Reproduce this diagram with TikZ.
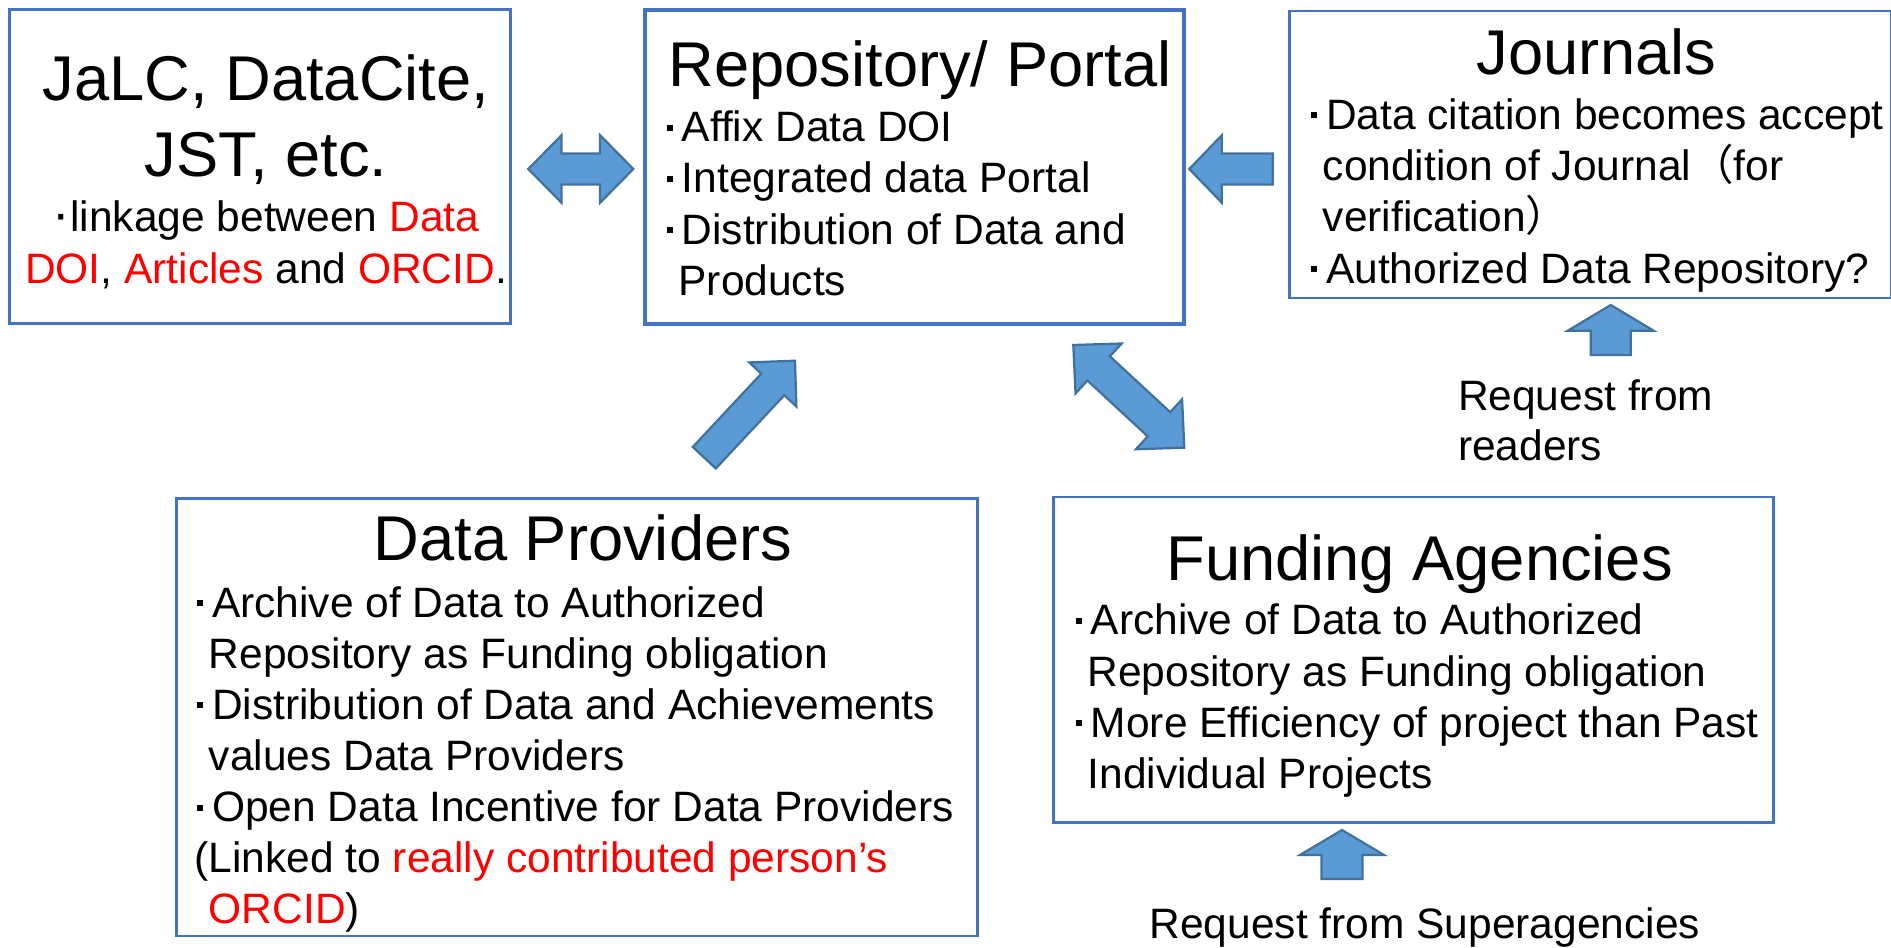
\documentclass[tikz,border=0pt]{standalone}
\usepackage{fontspec}
\setmainfont{Liberation Sans}
\newfontfamily\cjk{Noto Sans CJK JP}
\usetikzlibrary{calc}
\definecolor{boxblue}{HTML}{4472C4}
\definecolor{arrfill}{HTML}{5B9BD5}
\definecolor{arrline}{HTML}{41719C}
\definecolor{txtred}{HTML}{FF0000}

\newcommand\blk[3]{\vtop{\fontsize{#1}{#2}\selectfont\lineskiplimit=-100pt\halign{##\hfil\cr#3\crcr}}}
\newcommand\cblk[3]{\vtop{\fontsize{#1}{#2}\selectfont\lineskiplimit=-100pt\halign{\hfil##\hfil\cr#3\crcr}}}
\newcommand\sqb{\makebox[7.1pt][l]{\hspace{1pt}\raisebox{4.4pt}{\rule{2.4pt}{2.4pt}}}}
\newcommand\ind{\hspace*{5.8pt}}
\newcommand\rd[1]{\textcolor{txtred}{#1}}
\newcommand\ttl[1]{{\fontsize{25.3pt}{30pt}\selectfont #1}}
\newcommand\mdot{{\fontsize{21pt}{21pt}\selectfont ·}}

% single block arrow: name, tail, tip, shaft half-width, head half-width, head length
\newcommand\blockarr[6]{%
  \coordinate (#1c) at ($(#3)!#6!(#2)$);
  \draw[arrowshape] ($(#2)!#4!90:(#3)$) -- ($(#1c)!#4!90:(#3)$) -- ($(#1c)!#5!90:(#3)$) -- (#3)
    -- ($(#1c)!#5!-90:(#3)$) -- ($(#1c)!#4!-90:(#3)$) -- ($(#2)!#4!-90:(#3)$) -- cycle;}
% double block arrow: name, tip A, tip B, shaft half-width, head half-width, head length
\newcommand\dblarr[6]{%
  \coordinate (#1a) at ($(#2)!#6!(#3)$);
  \coordinate (#1b) at ($(#3)!#6!(#2)$);
  \draw[arrowshape] (#2) -- ($(#1a)!#5!90:(#3)$) -- ($(#1a)!#4!90:(#3)$) -- ($(#1b)!#4!90:(#3)$)
    -- ($(#1b)!#5!90:(#3)$) -- (#3) -- ($(#1b)!#5!-90:(#3)$) -- ($(#1b)!#4!-90:(#3)$)
    -- ($(#1a)!#4!-90:(#3)$) -- ($(#1a)!#5!-90:(#3)$) -- cycle;}

\tikzset{
  box/.style={draw=boxblue, line width=1pt, inner sep=0pt, anchor=north west},
  txt/.style={inner sep=0pt, outer sep=0pt},
  arrowshape/.style={fill=arrfill, draw=arrline, line width=0.9pt, line join=miter}
}

\begin{document}
\begin{tikzpicture}[x=0.4pt, y=-0.4pt]
\useasboundingbox (0,0) rectangle (1891,947);

% boxes
\node[box, minimum width=200.4pt, minimum height=125.6pt] (jalc) at (8,8) {};
\node[box, line width=1.7pt, minimum width=215.8pt, minimum height=125.4pt] (repo) at (642.5,8) {};
\node[box, minimum width=240.6pt, minimum height=114.8pt] (jour) at (1288,9.5) {};
\node[box, minimum width=320.4pt, minimum height=175pt] (dp) at (175,497) {};
\node[box, minimum width=288pt, minimum height=130.2pt] (fund) at (1052,495.5) {};

% texts
\node[txt, anchor=base] (jalcT) at (266,100) {\cblk{25.3pt}{30.7pt}{JaLC, DataCite,\cr JST, etc.}};
\node[txt, anchor=base] (jalcB) at (266,231) {\cblk{17pt}{20.9pt}{\mdot linkage between \rd{Data}\cr \rd{DOI}, \rd{Articles} and \rd{ORCID}.}};

\node[txt, anchor=base] (repoT) at (920,86) {\ttl{Repository/ Portal}};
\node[txt, anchor=base west] (repoB) at (664,141.7) {\blk{17pt}{20.5pt}{\sqb Affix Data DOI\cr \sqb Integrated data Portal\cr \sqb Distribution of Data and\cr \ind Products}};

\node[txt, anchor=base] (jourT) at (1596.5,74) {\ttl{Journals}};
\node[txt, anchor=base west] (jourB) at (1308.3,129.3) {\blk{17pt}{20.5pt}{\sqb Data citation becomes accept\cr \ind condition of Journal{\cjk （}for\cr \ind verification{\cjk ）}\cr \sqb Authorized Data Repository?}};

\node[txt, anchor=base] (dpT) at (583,560) {\ttl{Data Providers}};
\node[txt, anchor=base west] (dpB) at (194.4,617) {\blk{17pt}{20.45pt}{\sqb Archive of Data to Authorized\cr \ind Repository as Funding obligation\cr \sqb Distribution of Data and Achievements\cr \ind values Data Providers\cr \sqb Open Data Incentive for Data Providers\cr (Linked to \rd{really contributed person’s}\cr \ind\rd{ORCID})}};

\node[txt, anchor=base] (fundT) at (1419.7,580) {\ttl{Funding Agencies}};
\node[txt, anchor=base west] (fundB) at (1073.1,634.8) {\blk{17pt}{20.5pt}{\sqb Archive of Data to Authorized\cr \ind Repository as Funding obligation\cr \sqb More Efficiency of project than Past\cr \ind Individual Projects}};

\node[txt, anchor=base west] (readers) at (1458,410) {\blk{17pt}{20pt}{Request from\cr readers}};
\node[txt, anchor=base west] (super) at (1149.6,938) {\fontsize{17pt}{20pt}\selectfont Request from Superagencies};

% arrows
\coordinate (a1l) at (528.3,169);
\coordinate (a1r) at (633.3,169);
\dblarr{h1}{a1l}{a1r}{6.2pt}{13.5pt}{13.3pt}

\coordinate (a2t) at (1272.7,169);
\coordinate (a2h) at (1189.3,169);
\blockarr{h2}{a2t}{a2h}{6.2pt}{13.5pt}{13pt}

\coordinate (a3t) at (1610.7,355);
\coordinate (a3h) at (1610.7,305);
\blockarr{h3}{a3t}{a3h}{8pt}{17.2pt}{10.3pt}

\coordinate (a4t) at (1342,879);
\coordinate (a4h) at (1342,830);
\blockarr{h4}{a4t}{a4h}{8.2pt}{16.8pt}{10pt}

\coordinate (a5t) at (704.3,457.7);
\coordinate (a5h) at (795,360.7);
\blockarr{h5}{a5t}{a5h}{6.3pt}{12.9pt}{13pt}

\coordinate (a6a) at (1073.3,345);
\coordinate (a6b) at (1184.3,447.7);
\dblarr{h6}{a6a}{a6b}{6.6pt}{13.6pt}{13.8pt}
\end{tikzpicture}
\end{document}
